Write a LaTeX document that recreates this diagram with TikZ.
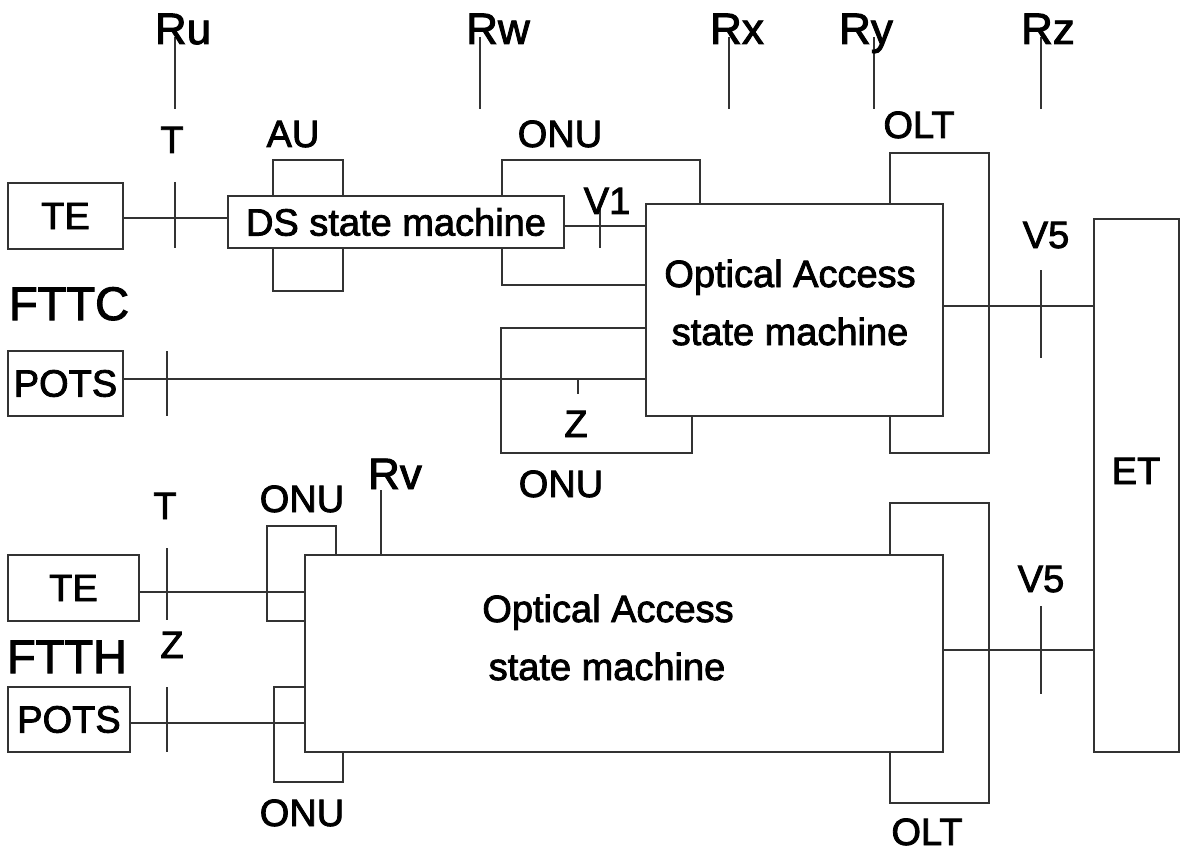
\documentclass[tikz,border=0pt]{standalone}
\usepackage{fontspec}
\setmainfont{Liberation Sans}[FakeBold=2.2]
\begin{document}
\begin{tikzpicture}[x=1pt,y=-1pt,
  ln/.style={line width=1.2pt, draw=black!80},
  backbox/.style={ln, rectangle, inner sep=0pt},
  frontbox/.style={ln, rectangle, inner sep=0pt, fill=white, font=\fontsize{38}{40}\selectfont},
  lbl/.style={inner sep=0pt, anchor=base, font=\fontsize{38}{40}\selectfont},
  rlbl/.style={inner sep=0pt, anchor=base, font=\fontsize{44}{46}\selectfont},
  hlbl/.style={inner sep=0pt, anchor=base, font=\fontsize{47}{50}\selectfont}]
\useasboundingbox (0,0) rectangle (1180,853);

% ---------- back boxes (ONU, AU, OLT) ----------
\node[backbox, minimum width=70pt,  minimum height=131pt] (au)   at (308,225.5) {};
\node[backbox, minimum width=198pt, minimum height=125pt] (onu1) at (601,222.5) {};
\node[backbox, minimum width=191pt, minimum height=125pt] (onu2) at (596.5,390.5) {};
\node[backbox, minimum width=99pt,  minimum height=300pt] (olt1) at (939.5,303) {};
\node[backbox, minimum width=99pt,  minimum height=300pt] (olt2) at (939.5,653) {};
\node[backbox, minimum width=69pt,  minimum height=95pt]  (onu3) at (301.5,573.5) {};
\node[backbox, minimum width=69pt,  minimum height=95pt]  (onu4) at (308.5,734.5) {};

% ---------- front boxes ----------
\node[frontbox, minimum width=115pt, minimum height=66pt]  (te1)   at (65.5,216) {TE};
\node[frontbox, minimum width=336pt, minimum height=52pt]  (ds)    at (396,222) {DS state machine};
\node[frontbox, minimum width=297pt, minimum height=212pt] (oa1)   at (794.5,310) {};
\node[frontbox, minimum width=115pt, minimum height=65pt]  (pots1) at (65.5,383.5) {POTS};
\node[frontbox, minimum width=85pt,  minimum height=533pt] (et)    at (1136.5,485.5) {};
\node[frontbox, minimum width=131pt, minimum height=66pt]  (te2)   at (73.5,588) {TE};
\node[frontbox, minimum width=122pt, minimum height=65pt]  (pots2) at (69,719.5) {POTS};
\node[frontbox, minimum width=638pt, minimum height=197pt] (oa2)   at (624,653.5) {};

% ---------- connectors ----------
\path (te1.east) ++(0,2) coordinate (c1);
\draw[ln] (c1) -- (c1 -| ds.west);
\path (ds.east) ++(0,4) coordinate (c2);
\draw[ln] (c2) -- (c2 -| oa1.west);
\path (pots1.east) ++(0,-4.5) coordinate (c3);
\draw[ln] (c3) -- (c3 -| oa1.west);
\path (oa1.east) ++(0,-4) coordinate (c4);
\draw[ln] (c4) -- (c4 -| et.west);
\path (te2.east) ++(0,4) coordinate (c5);
\draw[ln] (c5) -- (c5 -| oa2.west);
\path (pots2.east) ++(0,3.5) coordinate (c6);
\draw[ln] (c6) -- (c6 -| oa2.west);
\path (oa2.east) ++(0,-3.5) coordinate (c7);
\draw[ln] (c7) -- (c7 -| et.west);

% ---------- reference point lines ----------
\coordinate (ru) at (175,109);
\coordinate (rw) at (480,109);
\coordinate (rx) at (729,109);
\coordinate (ry) at (874,109);
\coordinate (rz) at (1041,109);
\foreach \p in {ru,rw,rx,ry,rz} \draw[ln] (\p) -- ++(0,-72);
\coordinate (rv) at (381,490);
\draw[ln] (rv) -- (rv |- oa2.north);

% ---------- ticks ----------
\coordinate (tt1) at (175,182);  \draw[ln] (tt1) -- ++(0,66);
\coordinate (tv1) at (600,208);  \draw[ln] (tv1) -- ++(0,40);
\coordinate (tp1) at (167,351);  \draw[ln] (tp1) -- ++(0,65);
\coordinate (tz1) at (578,380);  \draw[ln] (tz1) -- ++(0,14);
\coordinate (tv5a) at (1041,270); \draw[ln] (tv5a) -- ++(0,88);
\coordinate (tt2) at (167,548);  \draw[ln] (tt2) -- ++(0,72);
\coordinate (tp2) at (167,687);  \draw[ln] (tp2) -- ++(0,65);
\coordinate (tv5b) at (1041,606); \draw[ln] (tv5b) -- ++(0,88);

% ---------- labels ----------
\node[rlbl] (lru) at (183,44) {Ru};
\node[rlbl] (lrw) at (498,44) {Rw};
\node[rlbl] (lrx) at (737,44) {Rx};
\node[rlbl] (lry) at (866,44) {Ry};
\node[rlbl] (lrz) at (1048,44) {Rz};
\node[rlbl] (lrv) at (395,489) {Rv};

\node[lbl] (lt1)   at (172,153) {T};
\node[lbl] (lau)   at (293,147) {AU};
\node[lbl] (lonu1) at (560,147) {ONU};
\node[lbl] (lv1)   at (607,214) {V1};
\node[lbl] (lolt1) at (919,138) {OLT};
\node[lbl] (lv5a)  at (1046,248) {V5};
\node[lbl] (lz1)   at (576,437) {Z};
\node[lbl] (lonu2) at (561,497) {ONU};
\node[hlbl] (lfttc) at (69,320) {FTTC};
\node[lbl] (loa1a) at (790,287) {Optical Access};
\node[lbl] (loa1b) at (790,345) {state machine};
\node[lbl] (let)   at (1136,484) {ET};

\node[lbl] (lt2)   at (165,519) {T};
\node[lbl] (lonu3) at (302,512) {ONU};
\node[lbl] (lz2)   at (172,658) {Z};
\node[hlbl] (lftth) at (67,673) {FTTH};
\node[lbl] (lonu4) at (302,826) {ONU};
\node[lbl] (lv5b)  at (1041,592) {V5};
\node[lbl] (lolt2) at (927,845) {OLT};
\node[lbl] (loa2a) at (608,622) {Optical Access};
\node[lbl] (loa2b) at (607,680) {state machine};
\end{tikzpicture}
\end{document}
